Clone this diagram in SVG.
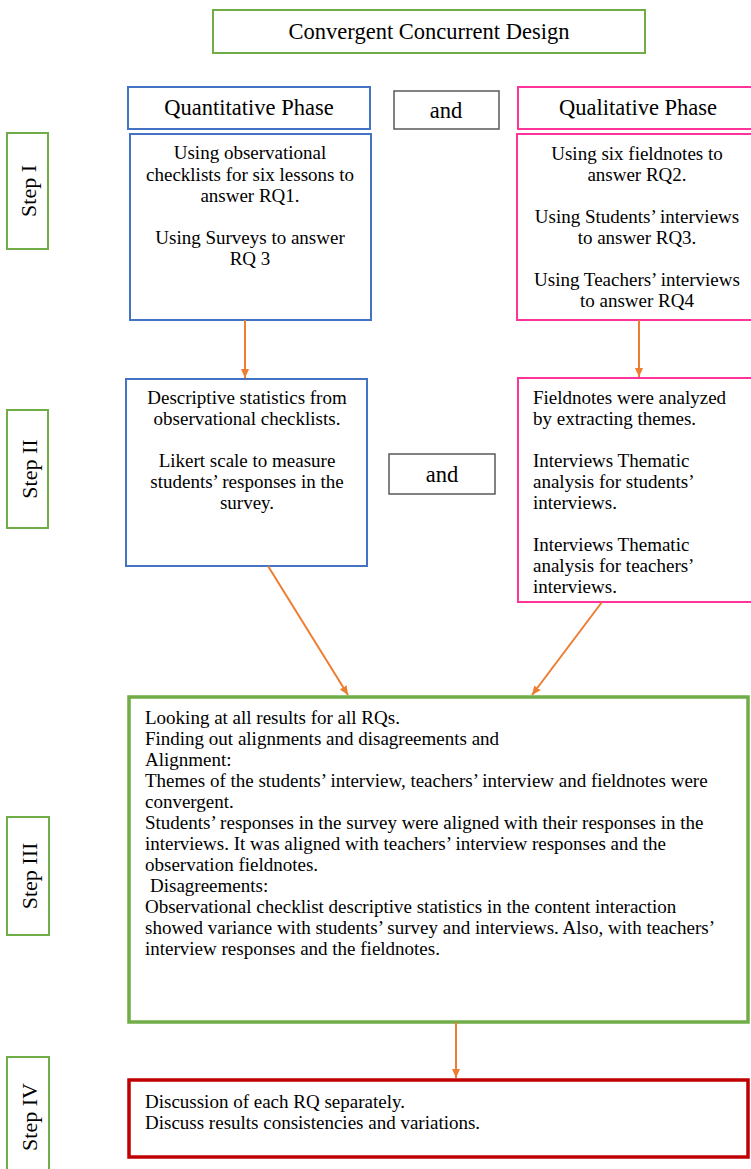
<svg xmlns="http://www.w3.org/2000/svg" width="751" height="1169" viewBox="0 0 751 1169">
<style>
.t{font-family:"Liberation Serif","Times New Roman",serif;fill:#000}
.h{font-size:22.5px;text-anchor:middle}
.b{font-size:19px}
.c{text-anchor:middle}
.s{font-size:22px;text-anchor:middle}
.g{fill:#fff;stroke:#70AD47;stroke-width:2}
.bl{fill:#fff;stroke:#4472C4;stroke-width:2}
.pk{fill:#fff;stroke:#FF3399;stroke-width:2}
.gr{fill:#fff;stroke:#595959;stroke-width:1.5}
.con{stroke:#ED7D31;stroke-width:2;fill:none;marker-end:url(#ah)}
</style>
<defs>
<marker id="ah" markerWidth="10" markerHeight="10" refX="9" refY="5" orient="auto" markerUnits="userSpaceOnUse">
<path d="M0,1 L9,5 L0,9 Z" fill="#ED7D31"/>
</marker>
</defs>
<rect width="751" height="1169" fill="#fff"/>

<g id="title">
<rect class="g" x="213" y="10" width="432" height="43"/>
<text class="t h" x="429" y="39">Convergent Concurrent Design</text>
</g>

<g id="quant-phase">
<rect class="bl" x="128" y="87" width="242" height="42"/>
<text class="t h" x="249" y="115">Quantitative Phase</text>
</g>
<g id="and1">
<rect class="gr" x="394" y="91" width="105" height="38"/>
<text class="t h" x="446" y="118">and</text>
</g>
<g id="qual-phase">
<rect class="pk" x="518" y="87" width="240" height="42"/>
<text class="t h" x="638" y="115">Qualitative Phase</text>
</g>

<g id="step1">
<rect class="g" x="7" y="133" width="41" height="116"/>
<text class="t s" transform="translate(36,191) rotate(-90)">Step I</text>
</g>
<g id="quant1">
<rect class="bl" x="130" y="134" width="241" height="186"/>
<text class="t b c" x="250" y="159">Using observational</text>
<text class="t b c" x="250" y="181">checklists for six lessons to</text>
<text class="t b c" x="250" y="202">answer RQ1.</text>
<text class="t b c" x="250" y="244">Using Surveys to answer</text>
<text class="t b c" x="250" y="265">RQ 3</text>
</g>
<g id="qual1">
<rect class="pk" x="517" y="134" width="240" height="186"/>
<text class="t b c" x="637" y="160">Using six fieldnotes to</text>
<text class="t b c" x="637" y="181">answer RQ2.</text>
<text class="t b c" x="637" y="223">Using Students’ interviews</text>
<text class="t b c" x="637" y="244">to answer RQ3.</text>
<text class="t b c" x="637" y="286">Using Teachers’ interviews</text>
<text class="t b c" x="637" y="307">to answer RQ4</text>
</g>

<g id="step2">
<rect class="g" x="7" y="410" width="41" height="118"/>
<text class="t s" transform="translate(37,469) rotate(-90)">Step II</text>
</g>
<g id="quant2">
<rect class="bl" x="126" y="379" width="241" height="187"/>
<text class="t b c" x="247" y="404">Descriptive statistics from</text>
<text class="t b c" x="247" y="425">observational checklists.</text>
<text class="t b c" x="247" y="467">Likert scale to measure</text>
<text class="t b c" x="247" y="488">students’ responses in the</text>
<text class="t b c" x="247" y="509">survey.</text>
</g>
<g id="and2">
<rect class="gr" x="389" y="454" width="106" height="40"/>
<text class="t h" x="442" y="482">and</text>
</g>
<g id="qual2">
<rect class="pk" x="518" y="378" width="240" height="224"/>
<text class="t b" x="533" y="404">Fieldnotes were analyzed</text>
<text class="t b" x="533" y="425">by extracting themes.</text>
<text class="t b" x="533" y="467">Interviews Thematic</text>
<text class="t b" x="533" y="488">analysis for students’</text>
<text class="t b" x="533" y="509">interviews.</text>
<text class="t b" x="533" y="551">Interviews Thematic</text>
<text class="t b" x="533" y="572">analysis for teachers’</text>
<text class="t b" x="533" y="593">interviews.</text>
</g>

<g id="step3">
<rect class="g" x="7" y="817" width="42" height="118"/>
<text class="t s" transform="translate(37,876) rotate(-90)">Step III</text>
</g>
<g id="merge">
<rect fill="#fff" stroke="#70AD47" stroke-width="3.5" x="129" y="697" width="619" height="325"/>
<text class="t b" x="145" y="724">Looking at all results for all RQs.</text>
<text class="t b" x="145" y="745">Finding out alignments and disagreements and</text>
<text class="t b" x="145" y="766">Alignment:</text>
<text class="t b" x="145" y="787">Themes of the students’ interview, teachers’ interview and fieldnotes were</text>
<text class="t b" x="145" y="808">convergent.</text>
<text class="t b" x="145" y="829">Students’ responses in the survey were aligned with their responses in the</text>
<text class="t b" x="145" y="850">interviews. It was aligned with teachers’ interview responses and the</text>
<text class="t b" x="145" y="871">observation fieldnotes.</text>
<text class="t b" x="150" y="892">Disagreements:</text>
<text class="t b" x="145" y="913">Observational checklist descriptive statistics in the content interaction</text>
<text class="t b" x="145" y="934">showed variance with students’ survey and interviews. Also, with teachers’</text>
<text class="t b" x="145" y="955">interview responses and the fieldnotes.</text>
</g>

<g id="step4">
<rect class="g" x="7" y="1057" width="42" height="120"/>
<text class="t s" transform="translate(37,1117) rotate(-90)">Step IV</text>
</g>
<g id="discussion">
<rect fill="#fff" stroke="#C00000" stroke-width="3.5" x="129" y="1080" width="619" height="77"/>
<text class="t b" x="145" y="1108">Discussion of each RQ separately.</text>
<text class="t b" x="145" y="1129">Discuss results consistencies and variations.</text>
</g>

<g id="connectors">
<line class="con" x1="245" y1="320" x2="245" y2="378"/>
<line class="con" x1="639" y1="320" x2="639" y2="377"/>
<line class="con" x1="268" y1="566" x2="348" y2="695"/>
<line class="con" x1="602" y1="602" x2="532" y2="695"/>
<line class="con" x1="456" y1="1022" x2="456" y2="1078"/>
</g>
</svg>
